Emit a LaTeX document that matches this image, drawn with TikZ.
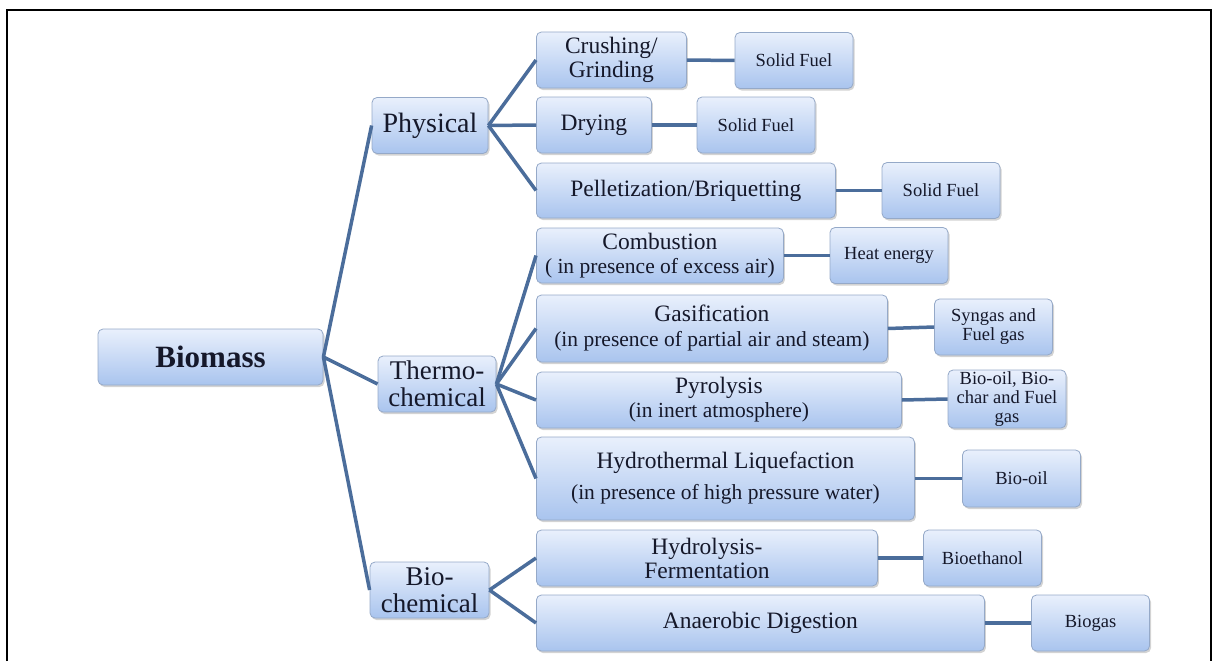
\documentclass[tikz,border=0pt]{standalone}
\usepackage{fontspec}
\setmainfont{Liberation Serif}
\usetikzlibrary{shadows}

\definecolor{tiletop}{HTML}{E9F0FC}
\definecolor{tilebot}{HTML}{A9C4EE}
\definecolor{tileline}{HTML}{95A9C8}
\definecolor{branchblue}{HTML}{4B6D9B}
\definecolor{inkdark}{HTML}{15182A}

\newcommand{\procnote}[1]{{\fontsize{21.5}{24}\selectfont #1}}

\tikzset{
	tile/.style={draw=tileline, line width=0.8pt, rounded corners=5pt,
		top color=tiletop, bottom color=tilebot, text=inkdark,
		drop shadow={shadow xshift=1.5pt, shadow yshift=-2pt, opacity=0.35},
		align=center, inner sep=0pt},
	classbox/.style={tile, minimum height=56pt, font=\fontsize{27}{27}\selectfont},
	procbox/.style={tile, anchor=west, minimum height=56pt, font=\fontsize{23.5}{24}\selectfont},
	prodbox/.style={tile, minimum width=118pt, minimum height=56pt, font=\fontsize{18.5}{19}\selectfont},
	branch/.style={draw=branchblue, line width=3.5pt},
}

\begin{document}
\begin{tikzpicture}[x=1pt, y=-1pt]
		\useasboundingbox (0,0) rectangle (1214,661);
		% outer frame
		\draw[line width=2pt] (7,661) -- (7,10) -- (1211,10) -- (1211,661);
		% root and classes
		\node[classbox, minimum width=225pt, font=\bfseries\fontsize{31}{31}\selectfont] (biomass) at (210.5,357) {Biomass};
		\node[classbox, minimum width=116pt, font=\fontsize{28}{28}\selectfont] (physical) at (430,125.5) {Physical};
		\node[classbox, minimum width=118pt] (thermo) at (437,384) {Thermo-\\chemical};
		\node[classbox, minimum width=119pt] (biochem) at (429.5,590) {Bio-\\chemical};
		% processes
		\node[procbox, minimum width=150pt] (crushing) at (536,60) {Crushing/\\Grinding};
		\node[procbox, minimum width=115pt] (drying) at (536,125) {Drying};
		\node[procbox, minimum width=299pt, minimum height=55pt] (pellet) at (536,190.5) {Pelletization/Briquetting};
		\node[procbox, minimum width=247pt, minimum height=55pt] (combustion) at (536,255.5) {Combustion\\\procnote{( in presence of excess air)}};
		\node[procbox, minimum width=351pt, minimum height=67pt] (gasif) at (536,328.5) {Gasification\\[1pt]\procnote{(in presence of partial air and steam)}};
		\node[procbox, minimum width=365pt] (pyro) at (536,400) {Pyrolysis\\\procnote{(in inert atmosphere)}};
		\node[procbox, minimum width=378pt, minimum height=83pt] (htl) at (536,478.5) {Hydrothermal Liquefaction\\[7pt]\procnote{(in presence of high pressure water)}};
		\node[procbox, minimum width=341pt] (hydrolysis) at (536,558) {Hydrolysis-\\Fermentation};
		\node[procbox, minimum width=448pt] (anaerobic) at (536,623) {Anaerobic Digestion};
		% products
		\node[prodbox] (solidA) at (794,60.5) {Solid Fuel};
		\node[prodbox] (solidB) at (756,125) {Solid Fuel};
		\node[prodbox] (solidC) at (941,190.5) {Solid Fuel};
		\node[prodbox] (heat) at (889,255.5) {Heat energy};
		\node[prodbox] (syngas) at (993.5,327) {Syngas and\\Fuel gas};
		\node[prodbox, minimum height=58pt] (biochar) at (1007,399) {Bio-oil, Bio-\\char and Fuel\\gas};
		\node[prodbox, minimum height=57pt] (biooil) at (1021.5,478.5) {Bio-oil};
		\node[prodbox] (bioethanol) at (982.5,558) {Bioethanol};
		\node[prodbox] (biogas) at (1090.5,623) {Biogas};
		% branches of the tree
		\foreach \a/\b in {biomass/physical, biomass/thermo, biomass/biochem,
			physical/crushing, physical/drying, physical/pellet,
			thermo/combustion, thermo/gasif, thermo/pyro, thermo/htl,
			biochem/hydrolysis, biochem/anaerobic,
			crushing/solidA, drying/solidB, pellet/solidC, combustion/heat,
			gasif/syngas, pyro/biochar, htl/biooil, hydrolysis/bioethanol, anaerobic/biogas}
		{
			\draw[branch] (\a.east) -- (\b.west);
		}
	\end{tikzpicture}
\end{document}
